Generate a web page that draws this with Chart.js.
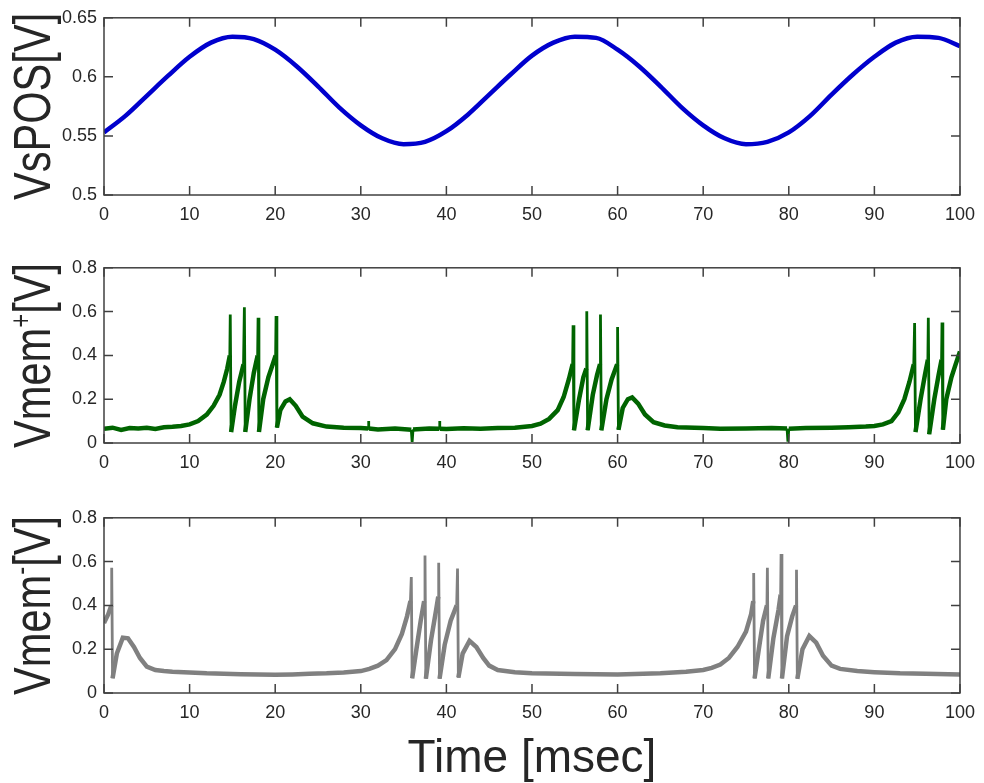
<!DOCTYPE html>
<html>
<head>
<meta charset="utf-8">
<script src="https://cdn.jsdelivr.net/npm/chart.js@4.4.1/dist/chart.umd.min.js"></script>
<style>
html, body { margin: 0; padding: 0; background: #fff; }
.panel { position: absolute; left: 0; width: 984px; }
</style>
</head>
<body>
<div class="panel" style="top:0;height:250px"><canvas id="posChart"></canvas></div>
<div class="panel" style="top:250px;height:250px"><canvas id="plusChart"></canvas></div>
<div class="panel" style="top:500px;height:283px"><canvas id="minusChart"></canvas></div>
<script>
// tick labels
const xTicks = [0, 10, 20, 30, 40, 50, 60, 70, 80, 90, 100];
const yTicksPos = [0.5, 0.55, 0.6, 0.65];
const yTicksMem = [0, 0.2, 0.4, 0.6, 0.8];

// VsPOS (blue)
const posTime = [0, 2.5, 5, 7.5, 10, 12.5, 15, 17.5, 20, 22.5, 25, 27.5, 30, 32.5, 35, 37.5,
  40, 42.5, 45, 47.5, 50, 52.5, 55, 57.5, 60, 62.5, 65, 67.5, 70, 72.5, 75, 77.5,
  80, 82.5, 85, 87.5, 90, 92.5, 95, 97.5, 100];
const posValues = [0.553, 0.567, 0.584, 0.601, 0.617, 0.629, 0.634, 0.632, 0.623, 0.609, 0.592, 0.574, 0.559, 0.548, 0.543, 0.545,
  0.554, 0.568, 0.585, 0.602, 0.618, 0.629, 0.634, 0.633, 0.623, 0.609, 0.592, 0.574, 0.559, 0.548, 0.543, 0.545,
  0.553, 0.567, 0.585, 0.602, 0.617, 0.629, 0.634, 0.633, 0.626];

// Vmem+ (green)
const plusTime = [0, 1, 2, 3, 4, 5, 6, 7, 8, 9, 10, 11, 12, 12.8, 13.5, 14, 14.4, 14.7,
  14.75, 14.85, 15.3, 15.8, 16.3, 16.4, 16.5, 17, 17.5, 17.95, 18, 18.1, 18.6, 19.2, 19.8, 20.05, 20.1, 20.2,
  20.6, 21.2, 21.7, 22.4, 23.2, 24.4, 26, 28, 30, 30.85, 30.9, 30.95, 32, 34, 35.9, 36, 36.1, 38, 39.15, 39.2, 39.25, 40, 42, 44, 46, 48,
  50, 51, 52, 53, 53.7, 54.3, 54.75, 54.8, 54.9, 55.5, 56, 56.35, 56.4, 56.5, 57.1, 57.6, 57.95, 58, 58.1,
  58.7, 59.3, 59.95, 60, 60.1, 60.6, 61.2, 61.7, 62.4, 63.2, 64.2, 65.5, 67, 70, 72, 75, 78, 79.8, 79.9, 80,
  82, 85, 87, 89, 90, 91, 92, 92.8, 93.5, 94.1, 94.6, 94.7, 94.8, 95.4, 95.9, 96.25, 96.3, 96.4,
  97, 97.5, 97.85, 97.9, 98, 98.4, 99, 99.5, 100];
const plusValues = [0.065, 0.07, 0.06, 0.068, 0.066, 0.07, 0.064, 0.072, 0.074, 0.078, 0.085, 0.1, 0.13, 0.17, 0.22, 0.28, 0.34, 0.40,
  0.587, 0.05, 0.17, 0.28, 0.36, 0.62, 0.05, 0.2, 0.32, 0.4, 0.572, 0.05, 0.2, 0.3, 0.37, 0.4, 0.58, 0.07,
  0.15, 0.19, 0.2, 0.17, 0.12, 0.09, 0.075, 0.07, 0.068, 0.066, 0.1, 0.066, 0.062, 0.066, 0.06, 0.005, 0.062, 0.066, 0.065, 0.1, 0.065, 0.064, 0.067, 0.065, 0.068, 0.07,
  0.078, 0.088, 0.11, 0.15, 0.21, 0.29, 0.36, 0.538, 0.058, 0.2, 0.3, 0.34, 0.602, 0.058, 0.22, 0.31, 0.36, 0.587, 0.058,
  0.2, 0.29, 0.36, 0.53, 0.06, 0.16, 0.2, 0.208, 0.18, 0.13, 0.095, 0.08, 0.072, 0.068, 0.065, 0.066, 0.068, 0.066, 0.006, 0.065,
  0.068, 0.07, 0.072, 0.075, 0.078, 0.085, 0.1, 0.14, 0.2, 0.28, 0.36, 0.548, 0.05, 0.2, 0.31, 0.38, 0.572, 0.04,
  0.2, 0.31, 0.38, 0.55, 0.06, 0.2, 0.3, 0.36, 0.418];

// Vmem- (gray)
const minusTime = [0, 0.5, 0.85, 0.9, 1, 1.5, 2.2, 2.8, 3.5, 4.2, 5, 6, 7, 8, 10, 12, 14, 16, 18, 20, 22, 24, 26, 28,
  30, 31, 32, 33, 34, 34.8, 35.4, 35.8, 35.9, 36, 36.5, 37, 37.4, 37.5, 37.6, 38.2, 38.8, 39.05, 39.1, 39.2,
  39.8, 40.5, 41.2, 41.3, 41.4, 41.9, 42.7, 43.5, 44.3, 45, 46, 48, 50, 55, 60, 65, 68,
  70, 71, 72, 73, 74, 75, 75.6, 75.85, 75.9, 76, 76.5, 77, 77.45, 77.5, 77.6, 78.2, 78.8, 79.05, 79.1, 79.2,
  79.8, 80.4, 80.85, 80.9, 81, 81.6, 82.4, 83.2, 84, 85, 86, 88, 90, 93, 96, 100];
const minusValues = [0.32, 0.36, 0.4, 0.572, 0.067, 0.18, 0.253, 0.25, 0.21, 0.16, 0.12, 0.105, 0.1, 0.097, 0.094, 0.09, 0.088, 0.086, 0.084, 0.083, 0.085, 0.088, 0.09, 0.094,
  0.1, 0.11, 0.125, 0.15, 0.2, 0.27, 0.35, 0.42, 0.53, 0.067, 0.2, 0.33, 0.42, 0.628, 0.065, 0.24, 0.38, 0.44, 0.595, 0.065,
  0.22, 0.33, 0.4, 0.568, 0.07, 0.18, 0.238, 0.21, 0.16, 0.125, 0.105, 0.095, 0.09, 0.087, 0.085, 0.09, 0.097,
  0.105, 0.115, 0.13, 0.16, 0.21, 0.28, 0.36, 0.42, 0.548, 0.066, 0.2, 0.33, 0.4, 0.572, 0.066, 0.25, 0.38, 0.45, 0.635, 0.066,
  0.26, 0.35, 0.4, 0.563, 0.065, 0.2, 0.26, 0.23, 0.17, 0.125, 0.11, 0.1, 0.095, 0.09, 0.088, 0.085];

const FONT = '"Liberation Sans", Arial, sans-serif';
const TEXT = '#262626';
Chart.defaults.font.family = FONT;
Chart.defaults.font.size = 18;
Chart.defaults.color = TEXT;

function toPoints(times, values) {
  return times.map((t, i) => ({ x: t, y: values[i] }));
}

// noisy traces look thick where flat, thinner on the steep spike strokes
function segWidth(flat, steep) {
  return ctx => {
    const dx = Math.abs(ctx.p1.parsed.x - ctx.p0.parsed.x);
    const dy = Math.abs(ctx.p1.parsed.y - ctx.p0.parsed.y);
    return dy / Math.max(dx, 1e-6) > 0.4 ? steep : flat;
  };
}

// MATLAB style box with inward ticks on all four sides
const boxPlugin = {
  id: 'box',
  afterDatasetsDraw(chart) {
    const { ctx, chartArea: a, scales } = chart;
    ctx.save();
    ctx.strokeStyle = '#404040';
    ctx.lineWidth = 1.5;
    ctx.beginPath();
    scales.x.ticks.forEach(tk => {
      const px = scales.x.getPixelForValue(tk.value);
      ctx.moveTo(px, a.bottom); ctx.lineTo(px, a.bottom - 9);
      ctx.moveTo(px, a.top); ctx.lineTo(px, a.top + 9);
    });
    scales.y.ticks.forEach(tk => {
      const py = scales.y.getPixelForValue(tk.value);
      ctx.moveTo(a.left, py); ctx.lineTo(a.left + 9, py);
      ctx.moveTo(a.right, py); ctx.lineTo(a.right - 9, py);
    });
    ctx.stroke();
    ctx.strokeRect(a.left, a.top, a.width, a.height);
    ctx.restore();
  }
};

// rotated y title, narrowed along its length, with optional superscript
const yTitlePlugin = {
  id: 'ytitle',
  afterDraw(chart, args, opts) {
    const { ctx, chartArea: a } = chart;
    const big = '52px ' + FONT;
    const small = '30px ' + FONT;
    ctx.save();
    ctx.font = big;
    const w1 = ctx.measureText(opts.base).width;
    const w3 = ctx.measureText(opts.tail).width;
    ctx.font = small;
    const w2 = opts.sup ? ctx.measureText(opts.sup).width : 0;
    ctx.translate(0, (a.top + a.bottom) / 2);
    ctx.rotate(-Math.PI / 2);
    ctx.scale(0.8, 1);
    ctx.fillStyle = TEXT;
    ctx.textBaseline = 'alphabetic';
    ctx.textAlign = 'left';
    let x = -(w1 + w2 + w3) / 2;
    ctx.font = big;
    ctx.fillText(opts.base, x, 50);
    x += w1;
    if (opts.sup) {
      ctx.font = small;
      ctx.fillText(opts.sup, x, 31);
      x += w2;
    }
    ctx.font = big;
    ctx.fillText(opts.tail, x, 50);
    ctx.restore();
  }
};

function makeChart(id, points, color, yMin, yMax, yTicks, title, xHeight, withXTitle, smooth) {
  const ctx = document.getElementById(id).getContext('2d');
  return new Chart(ctx, {
    type: 'line',
    data: {
      datasets: [{
        data: points,
        borderColor: color,
        borderWidth: smooth ? 4.5 : 3,
        segment: smooth ? {} : { borderWidth: segWidth(4.5, 2.8) },
        pointRadius: 0,
        tension: smooth ? 0.4 : 0,
        cubicInterpolationMode: smooth ? 'monotone' : 'default',
        fill: false
      }]
    },
    options: {
      responsive: true,
      maintainAspectRatio: false,
      animation: false,
      events: [],
      layout: { padding: { top: 15, right: 19, left: 0, bottom: 0 } },
      plugins: {
        legend: { display: false },
        tooltip: { enabled: false },
        ytitle: title
      },
      scales: {
        x: {
          type: 'linear',
          min: 0,
          max: 100,
          afterBuildTicks: scale => { scale.ticks = xTicks.map(v => ({ value: v })); },
          afterFit: scale => { scale.height = xHeight; },
          grid: { display: false, drawTicks: false },
          border: { display: false },
          ticks: { padding: 9, color: TEXT, font: { size: 18 }, maxRotation: 0, callback: v => String(v) },
          title: {
            display: withXTitle,
            text: 'Time [msec]',
            color: TEXT,
            font: { size: 46, lineHeight: 1 },
            padding: { top: 0, bottom: 1 }
          }
        },
        y: {
          type: 'linear',
          min: yMin,
          max: yMax,
          afterBuildTicks: scale => { scale.ticks = yTicks.map(v => ({ value: v })); },
          afterFit: scale => { scale.width = 104; },
          grid: { display: false, drawTicks: false },
          border: { display: false },
          ticks: { padding: 7, color: TEXT, font: { size: 18 }, callback: v => String(v) }
        }
      }
    },
    plugins: [boxPlugin, yTitlePlugin]
  });
}

makeChart('posChart', toPoints(posTime, posValues), '#0000cd', 0.5, 0.65, yTicksPos,
  { base: 'VsPOS', sup: '', tail: '[V]' }, 55, false, true);
makeChart('plusChart', toPoints(plusTime, plusValues), '#006400', 0, 0.8, yTicksMem,
  { base: 'Vmem', sup: '+', tail: '[V]' }, 57, false, false);
makeChart('minusChart', toPoints(minusTime, minusValues), '#808080', 0, 0.8, yTicksMem,
  { base: 'Vmem', sup: '-', tail: '[V]' }, 90, true, false);
</script>
</body>
</html>
